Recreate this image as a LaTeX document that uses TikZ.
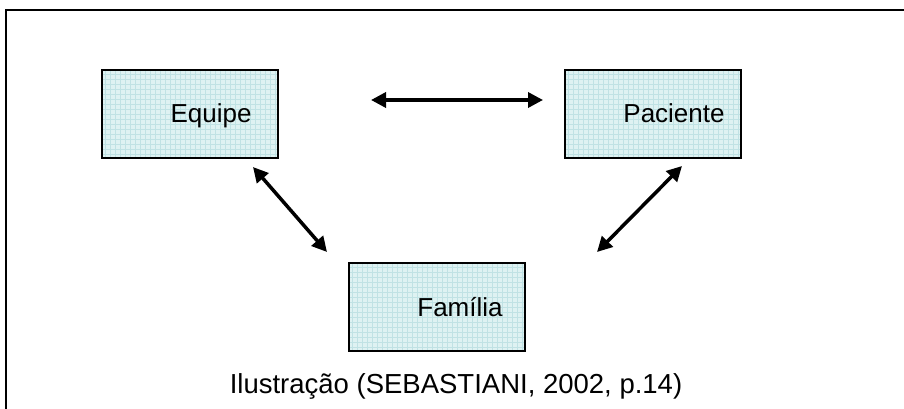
\documentclass[tikz,border=0pt]{standalone}
\usepackage{fontspec}
\setmainfont{Liberation Sans}
\usetikzlibrary{arrows.meta}
\definecolor{boxfill}{RGB}{222,242,242}
\definecolor{gridc}{RGB}{192,226,228}
\tikzset{
  px/.style={x=1pt,y=-1pt},
  entity/.style={draw=black, line width=2pt, fill=boxfill, minimum width=176pt, minimum height=88pt,
    inner sep=0pt, anchor=north west,
    path picture={\draw[gridc, line width=0.5pt] ([xshift=-1pt,yshift=-1pt]path picture bounding box.south west) grid[step=5pt] ([xshift=1pt,yshift=1pt]path picture bounding box.north east);}},
  lbl/.style={font=\fontsize{26}{30}\selectfont, text=black, anchor=base},
  rel/.style={line width=3.5pt, {Triangle[length=15pt,width=15pt]}-{Triangle[length=15pt,width=15pt]}},
  frame/.style={line width=2.2pt}
}
\begin{document}
\begin{tikzpicture}[px]
\useasboundingbox (0,0) rectangle (904,409);
\draw[frame] (6,420) -- (6,10) -- (915,10);
\node[entity] (equipe) at (101,69) {};
\node[entity] (paciente) at (564,69) {};
\node[entity] (familia) at (348,262) {};
\node[lbl] (tequipe) at (211,123) {Equipe};
\node[lbl] (tpaciente) at (674,123) {Paciente};
\node[lbl] (tfamilia) at (460,316) {Família};
\coordinate (a1) at (371,100);
\coordinate (a2) at (543,100);
\coordinate (b1) at (253,167);
\coordinate (b2) at (327,252);
\coordinate (c1) at (682,166);
\coordinate (c2) at (597,252);
\draw[rel] (a1) -- (a2);
\draw[rel] (b1) -- (b2);
\draw[rel] (c1) -- (c2);
\node[font=\fontsize{27.5}{32}\selectfont, anchor=center] (caption) at (456,386) {Ilustração (SEBASTIANI, 2002, p.14)};
\end{tikzpicture}
\end{document}
